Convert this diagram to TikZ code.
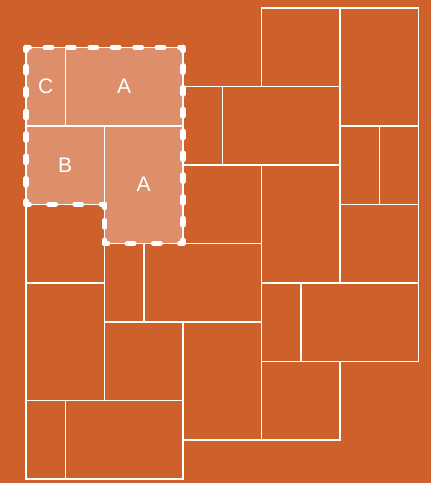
\documentclass[tikz,border=0pt]{standalone}
\usepackage{fontspec}
\setmainfont{Liberation Sans}
\definecolor{bgor}{RGB}{206,96,43}
\definecolor{hl}{RGB}{221,142,107}
\tikzset{
  cell/.style={draw=white, line width=1.5pt},
  outline/.style={draw=white, line width=5.2pt, line cap=round, line join=round},
  lbl/.style={text=white, font=\fontsize{21}{21}\selectfont, inner sep=0pt}
}
\begin{document}
\begin{tikzpicture}[x=1pt,y=-1pt]
\fill[bgor] (0,0) rectangle (431,483);
\useasboundingbox (0,0) rectangle (431,483);
\begin{scope}[shift={(26,8)}, x=39.25pt, y=-39.25pt]
% highlighted region fill
\fill[hl] (0,1) -- (4,1) -- (4,6) -- (2,6) -- (2,5) -- (0,5) -- cycle;
% cells
\foreach \a/\b/\c/\d in {
  0/1/1/3, 1/1/4/3, 0/3/2/5, 2/3/4/6,
  6/0/8/2, 8/0/10/3,
  4/2/5/4, 5/2/8/4,
  8/3/9/5, 9/3/10/5,
  4/4/6/6, 6/4/8/7, 8/5/10/7,
  0/5/2/7, 2/6/3/8, 3/6/6/8,
  6/7/7/9, 7/7/10/9,
  0/7/2/10, 2/8/4/10, 4/8/6/11, 6/9/8/11,
  0/10/1/12, 1/10/4/12}
  \draw[cell] (\a,\b) rectangle (\c,\d);
% dashed outline, edge by edge so that every corner carries a dash
\coordinate (o1) at (0,1);
\coordinate (o2) at (4,1);
\coordinate (o3) at (4,6);
\coordinate (o4) at (2,6);
\coordinate (o5) at (2,5);
\coordinate (o6) at (0,5);
\foreach \s/\e/\len/\n in {o1/o2/4/7, o2/o3/5/9, o3/o4/2/3, o4/o5/1/2, o5/o6/2/3, o6/o1/4/7}{
  \pgfmathsetmacro{\per}{\len*39.25/\n}
  \pgfmathsetmacro{\gap}{\per-6.8}
  \draw[outline, dash pattern=on 6.8pt off \gap pt, dash phase=3.4pt] (\s) -- (\e);
}
% labels
\node[lbl] (lc) at (0.5,2) {C};
\node[lbl] (la1) at (2.5,2) {A};
\node[lbl] (lb) at (1,4) {B};
\node[lbl] (la2) at (3,4.5) {A};
\end{scope}
\end{tikzpicture}
\end{document}
